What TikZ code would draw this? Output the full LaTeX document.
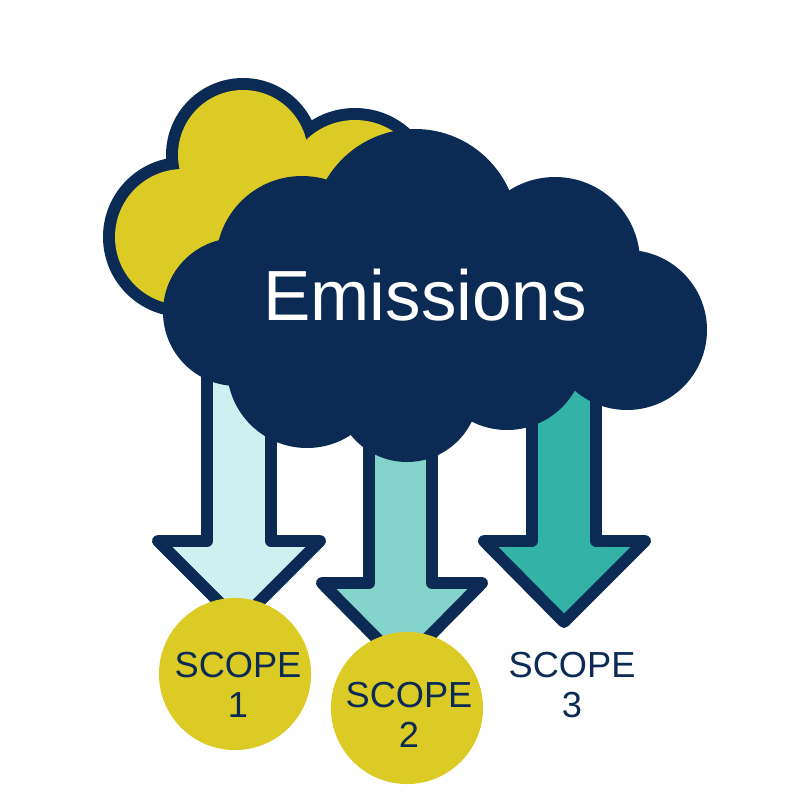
\documentclass[tikz,border=0pt]{standalone}
\usepackage{fontspec}
\setmainfont{Liberation Sans}
\usepackage{xcolor}
\definecolor{cloudnavy}{HTML}{0B2B55}
\definecolor{scopeyellow}{HTML}{DCCB24}
\definecolor{arrowlight}{HTML}{CDF1F0}
\definecolor{arrowmid}{HTML}{84D3CB}
\definecolor{arrowteal}{HTML}{33B3A8}
\usetikzlibrary{positioning}

\tikzset{
    arrowline/.style={draw=cloudnavy, line width=3.4pt, line join=round},
    scopelabel/.style={text=cloudnavy, align=center, font=\fontsize{10.3}{11.4}\selectfont, inner sep=0pt},
    scopedisc/.style={circle, fill=scopeyellow, minimum size=1.52cm, inner sep=0pt},
}

\begin{document}
\begin{tikzpicture}[x=0.01cm, y=-0.01cm]
    \useasboundingbox (0,0) rectangle (800,800);

    % back cloud
    \fill[cloudnavy] (243,155) circle (77); \fill[cloudnavy] (183,237) circle (80); \fill[cloudnavy] (355,190) circle (82);
    \fill[scopeyellow] (243,155) circle (65); \fill[scopeyellow] (183,237) circle (68); \fill[scopeyellow] (355,190) circle (70);
    \fill[scopeyellow] (183,237) -- (243,155) -- (355,190) -- (300,262) -- cycle;

    % arrows
    \draw[arrowline, fill=arrowlight] (207,340) -- (207,541) -- (158,541) -- (239,622) -- (320,541) -- (271,541) -- (271,340) -- cycle;
    \draw[arrowline, fill=arrowmid] (369,400) -- (369,583) -- (322,583) -- (402,664) -- (482,583) -- (432,583) -- (432,400) -- cycle;
    \draw[arrowline, fill=arrowteal] (532,340) -- (532,541) -- (484,541) -- (564,622) -- (645,541) -- (596,541) -- (596,340) -- cycle;

    % front cloud
    \fill[cloudnavy] (627,330) circle (80); \fill[cloudnavy] (555,262) circle (85);
    \fill[cloudnavy] (415,232) circle (103); \fill[cloudnavy] (302,262) circle (86);
    \fill[cloudnavy] (237,312) circle (74); \fill[cloudnavy] (307,368) circle (80);
    \fill[cloudnavy] (407,390) circle (72); \fill[cloudnavy] (507,352) circle (78);
    \fill[cloudnavy] (237,312) -- (302,262) -- (555,262) -- (627,330) -- (507,352) -- (407,390) -- (307,368) -- cycle;

    \node[anchor=base, text=white, font=\fontsize{20.2}{24}\selectfont, inner sep=0pt] (emissions) at (425,320) {Emissions};

    % scopes
    \node[scopedisc] (scopeonedisc) at (235,674) {};
    \node[scopedisc] (scopetwodisc) at (407,708) {};
    \node[scopelabel] (scopeone) at (238,685) {SCOPE\\1};
    \node[scopelabel] (scopetwo) at (409,715) {SCOPE\\2};
    \node[scopelabel] (scopethree) at (572,685) {SCOPE\\3};
\end{tikzpicture}
\end{document}
